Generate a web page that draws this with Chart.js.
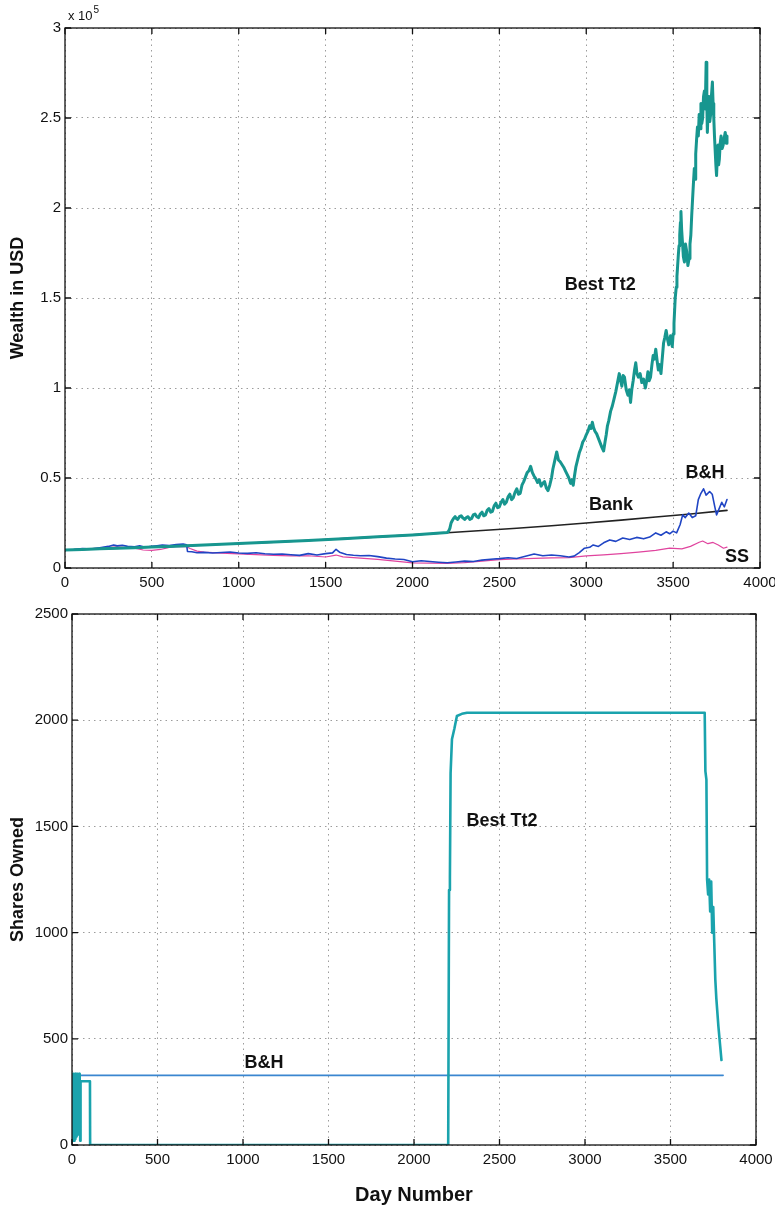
<!DOCTYPE html>
<html>
<head>
<meta charset="utf-8">
<script src="https://cdn.jsdelivr.net/npm/chart.js@4.4.1/dist/chart.umd.min.js"></script>
<style>
  html, body { margin: 0; padding: 0; background: #fff; }
  #wrap { position: relative; width: 775px; height: 1210px; }
  canvas { position: absolute; left: 0; }
  #wealth { top: 0; }
  #shares { top: 600px; }
</style>
</head>
<body>
<div id="wrap">
  <canvas id="wealth" width="775" height="600"></canvas>
  <canvas id="shares" width="775" height="610"></canvas>
</div>
<script>
// ---------- tick values ----------
const dayTicks = [0, 500, 1000, 1500, 2000, 2500, 3000, 3500, 4000];
const wealthTicks = [0, 50000, 100000, 150000, 200000, 250000, 300000];
const shareTicks = [0, 500, 1000, 1500, 2000, 2500];

// ---------- wealth (USD) ----------
const bankDays   = [0, 200, 400, 600, 800, 1000, 1200, 1400, 1600, 1800, 2000, 2200, 2400, 2600, 2800, 3000, 3200, 3400, 3600, 3810];
const bankWealth = [10000, 10650, 11300, 12000, 12800, 13600, 14400, 15300, 16300, 17300, 18400, 19600, 20800, 22100, 23500, 25000, 26600, 28300, 30000, 32000];

const bestDays = [0, 100, 200, 300, 400, 500, 600, 700, 800, 900, 1000, 1200, 1400, 1600, 1800, 2000, 2100, 2200,
  2208, 2215, 2222, 2230, 2238, 2245, 2252, 2260, 2270, 2280, 2290, 2300, 2310, 2320, 2330, 2340, 2350, 2360, 2370, 2380, 2390,
  2400, 2410, 2420, 2430, 2440, 2450, 2460, 2470, 2480, 2490, 2500, 2510, 2520, 2530, 2540, 2550, 2560, 2570, 2580, 2590,
  2600, 2610, 2620, 2630, 2640, 2650, 2660, 2670, 2680, 2690, 2700, 2710, 2720, 2730, 2740, 2750, 2760, 2770, 2780, 2790,
  2800, 2808, 2815, 2822, 2830, 2840, 2850, 2860, 2870, 2880, 2890, 2900, 2910, 2918, 2925, 2932, 2940, 2950, 2960, 2970,
  2980, 2990, 3000, 3010, 3020, 3028, 3035, 3042, 3050, 3060, 3070, 3080, 3090, 3100, 3108, 3115, 3122, 3130, 3140, 3150,
  3160, 3170, 3180, 3190, 3198, 3205, 3212, 3220, 3230, 3240, 3248, 3255, 3262, 3270, 3278, 3285, 3292, 3300, 3310, 3320,
  3330, 3340, 3348, 3355, 3362, 3370, 3378, 3385, 3392, 3400, 3408, 3415, 3422, 3430, 3438, 3445, 3452, 3460, 3468, 3475,
  3485, 3495, 3500, 3505, 3512, 3518, 3522, 3526, 3530, 3534, 3538, 3542, 3545, 3549, 3553, 3559, 3565, 3571, 3578, 3585,
  3592, 3597, 3602, 3607, 3612, 3617, 3622, 3626, 3630, 3635, 3640, 3645, 3650, 3655, 3660, 3665, 3670, 3675, 3680, 3685,
  3690, 3694, 3697, 3702, 3706, 3711, 3716, 3721, 3726, 3730, 3734, 3738, 3742, 3746, 3750, 3754, 3758, 3762, 3766, 3771,
  3776, 3782, 3788, 3794, 3800, 3805, 3810];
const bestWealth = [10000, 10300, 10700, 11000, 11300, 11650, 12000, 12400, 12800, 13200, 13600, 14400, 15300, 16300, 17300, 18400, 19000, 19700,
  20500, 22000, 25000, 26500, 27800, 28500, 27500, 27000, 28500, 29000, 27800, 27000, 28000, 28500, 27000, 27500, 29500, 30000, 28500, 28000, 30000,
  31000, 29000, 29500, 32000, 33000, 31000, 31500, 34500, 36000, 33500, 34000, 36500, 38000, 35500, 36500, 39500, 41000, 38000, 39000, 42000,
  44000, 41000, 41500, 46000, 48000, 50500, 53000, 54000, 56500, 53000, 51000, 49500, 47500, 49000, 45500, 47000, 48000, 44500, 43000, 46000,
  50000, 55000, 58000, 61000, 64500, 60000, 59000, 57500, 56000, 54000, 52000, 50000, 47000, 49000, 46000, 51000, 56000, 60000, 64000, 66500,
  70000, 71500, 74000, 76000, 79000, 77500, 81000, 78000, 76000, 74500, 72000, 69500, 67000, 65000, 70000, 74000, 79000, 82000, 87000, 90000,
  94000, 98000, 103000, 108000, 104000, 101000, 107000, 106000, 99000, 96000, 99000, 92000, 99000, 104000, 110000, 114000, 108000, 106000, 108000, 103000,
  105000, 100000, 104000, 109000, 104000, 106000, 113000, 118000, 116000, 121500, 115000, 110000, 113000, 108000, 117000, 125000, 128000, 132000, 127000, 124000,
  129000, 123000, 130000, 136000, 150000, 156000, 162000, 168000, 174000, 179000, 185000, 192000, 198000, 188000, 182000, 173000, 170000, 180000, 176000, 168000,
  172000, 180000, 185000, 196000, 205000, 214000, 222000, 216000, 230000, 238000, 245000, 240000, 252000, 244000, 258000, 247000, 250000, 262000, 265000, 255000,
  281000, 258000, 242000, 255000, 262000, 248000, 252000, 263000, 270000, 258000, 250000, 240000, 232000, 224000, 218000, 228000, 235000, 224000, 227000, 236000,
  240000, 233000, 235000, 239000, 242000, 236000, 240000];

const bhDays = [0, 50, 100, 150, 200, 250, 280, 300, 330, 360, 400, 430, 460, 500, 530, 560, 600, 640, 680, 700, 705, 730, 760,
  800, 850, 900, 950, 1000, 1050, 1100, 1150, 1200, 1250, 1300, 1350, 1400, 1450, 1500, 1540, 1560, 1580, 1620, 1660, 1700,
  1750, 1800, 1850, 1900, 1950, 2000, 2050, 2100, 2150, 2200, 2250, 2300, 2350, 2400, 2450, 2500, 2550, 2600, 2650, 2700,
  2750, 2800, 2850, 2900, 2930, 2960, 2990, 3020, 3040, 3070, 3100, 3135, 3170, 3210, 3250, 3290, 3330, 3365, 3400, 3430,
  3460, 3480, 3500, 3520, 3540, 3555, 3570, 3590, 3610, 3630, 3645, 3660, 3675, 3690, 3710, 3725, 3740, 3750, 3765, 3780, 3795, 3810];
const bhWealth = [10000, 10300, 10800, 10500, 11200, 12000, 12800, 12300, 12600, 12000, 11800, 12300, 11500, 12000, 12400, 12800, 12500, 13000, 13300, 12900, 9200, 9000, 8500,
  8700, 8300, 8600, 8900, 8300, 8100, 8500, 7900, 7600, 7800, 7400, 7000, 8000, 7200, 8000, 8400, 10400, 8800, 7500, 7100, 6800,
  6900, 6300, 5500, 5000, 4700, 3500, 4000, 3600, 3200, 2900, 3300, 3800, 3600, 4400, 4900, 5200, 5700, 5300, 6500, 7800,
  6800, 7200, 6800, 6100, 6600, 8500, 11000, 11500, 12800, 12000, 14000, 15600, 14800, 16700, 15800, 17000, 16200, 17200, 19500, 18200,
  20100, 19000, 20500, 19500, 24000, 29500, 28000, 30500, 28000, 29000, 38000, 41500, 44000, 40500, 42500, 41000, 34000, 29500, 33000, 36500, 34000, 38000];

const ssDays = [0, 100, 200, 300, 400, 450, 500, 550, 600, 650, 700, 720, 760, 800, 900, 1000, 1100, 1200, 1300, 1400, 1500, 1560,
  1600, 1700, 1800, 1900, 2000, 2100, 2200, 2300, 2400, 2500, 2600, 2700, 2800, 2900, 3000, 3100, 3200, 3300, 3400, 3480,
  3550, 3600, 3650, 3670, 3700, 3730, 3760, 3790, 3810];
const ssWealth = [10000, 10500, 11000, 11800, 11000, 10000, 9800, 10300, 11500, 12000, 11800, 10800, 9400, 8800, 8300, 7800, 7400, 7000, 6700, 6800, 6100, 7200,
  6200, 5500, 4800, 3800, 2900, 2700, 2600, 3000, 3800, 4600, 5000, 5400, 5600, 5800, 6700, 7300, 8000, 8800, 9800, 11000,
  10600, 12000, 14300, 15000, 13500, 14200, 12800, 11000, 11600];

// ---------- shares owned ----------
const bestShareDays = [0, 2, 4, 6, 8, 10, 12, 14, 16, 18, 20, 22, 24, 26, 28, 30, 32, 34, 36, 38, 40, 42, 44, 46, 48, 50, 105, 106,
  2200, 2205, 2210, 2214, 2222, 2236, 2251, 2280, 2310, 3700, 3704, 3710, 3714, 3720, 3726, 3732, 3738, 3744, 3750, 3756,
  3762, 3768, 3780, 3790, 3798];
const bestShares = [30, 335, 20, 330, 40, 335, 20, 330, 60, 335, 30, 330, 80, 335, 40, 330, 100, 335, 50, 330, 120, 335, 60, 330, 20, 300, 300, 0,
  0, 1200, 1260, 1750, 1910, 1960, 2020, 2030, 2035, 2035, 1760, 1720, 1250, 1180, 1250, 1100, 1240, 1000, 1120, 950,
  780, 690, 560, 470, 400];

const bhShareDays = [0, 3808];
const bhShares = [328, 328];

// ---------- drawing ----------
const FONT = "'Liberation Sans', Arial, Helvetica, sans-serif";
const zip = (d, v) => d.map((x, i) => ({ x, y: v[i] }));

function series(label, data, color, width) {
  return {
    label, data, borderColor: color, backgroundColor: color, borderWidth: width,
    pointRadius: 0, fill: false, tension: 0, borderJoinStyle: 'round', borderCapStyle: 'round'
  };
}

// axes box with inward tick marks, in-plot series names and the axis multiplier
const boxPlugin = {
  id: 'box',
  afterDraw(chart, args, opts) {
    const { ctx, chartArea: a, scales: { x, y } } = chart;
    ctx.save();
    ctx.strokeStyle = '#111';
    ctx.lineWidth = 1.3;
    ctx.strokeRect(a.left, a.top, a.right - a.left, a.bottom - a.top);
    ctx.beginPath();
    x.ticks.forEach(t => {
      const p = x.getPixelForValue(t.value);
      ctx.moveTo(p, a.bottom); ctx.lineTo(p, a.bottom - 6);
      ctx.moveTo(p, a.top); ctx.lineTo(p, a.top + 6);
    });
    y.ticks.forEach(t => {
      const p = y.getPixelForValue(t.value);
      ctx.moveTo(a.left, p); ctx.lineTo(a.left + 6, p);
      ctx.moveTo(a.right, p); ctx.lineTo(a.right - 6, p);
    });
    ctx.stroke();

    ctx.fillStyle = '#111';
    ctx.font = 'bold 18px ' + FONT;
    ctx.textAlign = 'center';
    ctx.textBaseline = 'middle';
    (opts.labels || []).forEach(l => {
      ctx.fillText(l.text, x.getPixelForValue(l.day), y.getPixelForValue(l.value));
    });

    if (opts.exponent) {
      ctx.textAlign = 'left';
      ctx.textBaseline = 'alphabetic';
      ctx.font = '13px ' + FONT;
      const base = 'x 10';
      const bx = a.left + 3, by = a.top - 8;
      ctx.fillText(base, bx, by);
      const w = ctx.measureText(base).width;
      ctx.font = '10px ' + FONT;
      ctx.fillText(opts.exponent, bx + w + 1, by - 7);
    }
    ctx.restore();
  }
};

function axis(ticksArr, fitSize, horizontal, format, extra) {
  const cfg = {
    type: 'linear',
    min: ticksArr[0],
    max: ticksArr[ticksArr.length - 1],
    afterBuildTicks: s => { s.ticks = ticksArr.map(value => ({ value })); },
    afterFit: s => {
      if (horizontal) s.height = fitSize; else s.width = fitSize;
      s.paddingLeft = 0; s.paddingRight = 0; s.paddingTop = 0; s.paddingBottom = 0;
    },
    grid: { color: '#9c9c9c', lineWidth: 1, drawTicks: false },
    border: { display: false, dash: [1.5, 4] },
    ticks: {
      color: '#111', padding: horizontal ? 6 : 4, autoSkip: false, maxRotation: 0,
      font: { family: FONT, size: 15 },
      callback: format
    }
  };
  return Object.assign(cfg, extra || {});
}

const plain = v => String(v);

function buildOptions(pad, yWidth, xHeight, yTicks, yFormat, yTitle, xTitle, boxOpts) {
  return {
    responsive: false,
    animation: false,
    parsing: false,
    normalized: true,
    layout: { padding: pad },
    plugins: { legend: { display: false }, tooltip: { enabled: false }, box: boxOpts },
    scales: {
      x: axis(dayTicks, xHeight, true, plain, xTitle ? {
        title: { display: true, text: xTitle, color: '#111', padding: { top: 0, bottom: 3 },
                 font: { family: FONT, size: 20, weight: 'bold' } }
      } : {}),
      y: axis(yTicks, yWidth, false, yFormat, {
        title: { display: true, text: yTitle, color: '#111', padding: { top: 7, bottom: 0 },
                 font: { family: FONT, size: 18, weight: 'bold' } }
      })
    }
  };
}

// top: wealth in USD (y labels in units of 10^5)
new Chart(document.getElementById('wealth'), {
  type: 'line',
  data: {
    datasets: [
      series('Best Tt2', zip(bestDays, bestWealth), '#17968f', 3),
      series('B&H', zip(bhDays, bhWealth), '#2045c4', 1.6),
      series('SS', zip(ssDays, ssWealth), '#e0449e', 1.2),
      series('Bank', zip(bankDays, bankWealth), '#222222', 1.6)
    ]
  },
  options: buildOptions(
    { left: 0, right: 15, top: 28, bottom: 0 }, 65, 32,
    wealthTicks, v => String(v / 1e5), 'Wealth in USD', null,
    {
      exponent: '5',
      labels: [
        { text: 'Best Tt2', day: 3080, value: 157000 },
        { text: 'B&H', day: 3683, value: 53000 },
        { text: 'Bank', day: 3142, value: 35000 },
        { text: 'SS', day: 3868, value: 6100 }
      ]
    }
  ),
  plugins: [boxPlugin]
});

// bottom: shares owned
new Chart(document.getElementById('shares'), {
  type: 'line',
  data: {
    datasets: [
      series('Best Tt2', zip(bestShareDays, bestShares), '#1aa3ad', 2.6),
      series('B&H', zip(bhShareDays, bhShares), '#3a86d0', 1.6)
    ]
  },
  options: buildOptions(
    { left: 0, right: 19, top: 14, bottom: 0 }, 72, 65,
    shareTicks, plain, 'Shares Owned', 'Day Number',
    {
      labels: [
        { text: 'Best Tt2', day: 2515, value: 1525 },
        { text: 'B&H', day: 1123, value: 386 }
      ]
    }
  ),
  plugins: [boxPlugin]
});
</script>
</body>
</html>
